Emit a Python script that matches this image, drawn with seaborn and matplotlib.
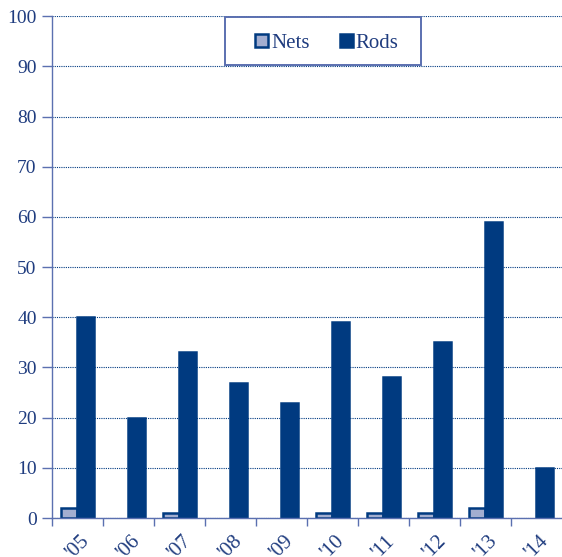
import matplotlib
matplotlib.use("Agg")
import matplotlib.pyplot as plt
import matplotlib.patches as mpatches
import seaborn as sns
import pandas as pd
import numpy as np

years = ["'05", "'06", "'07", "'08", "'09", "'10", "'11", "'12", "'13", "'14"]
nets = [2, 0, 1, 0, 0, 1, 1, 1, 2, 0]
rods = [40, 20, 33, 27, 23, 39, 28, 35, 59, 10]

navy = "#003A80"
light = "#A3AED0"
text_col = "#1F3C7F"
axis_col = "#5B70B0"

df = pd.DataFrame({
    "year": years * 2,
    "value": nets + rods,
    "type": ["Nets"] * len(years) + ["Rods"] * len(years),
})

sns.set_theme(style="white")
plt.rcParams["font.family"] = ["Liberation Serif", "DejaVu Serif"]

fig = plt.figure(figsize=(5.62, 5.57), dpi=100)
ax = fig.add_axes([0.0925, 0.070, 0.9075, 0.901])

sns.barplot(data=df, x="year", y="value", hue="type", order=years,
            hue_order=["Nets", "Rods"], palette=[light, navy], width=0.66,
            ax=ax, saturation=1, edgecolor=navy, linewidth=1.8)

# hide empty bars
for cont in ax.containers:
    for p in cont:
        if p.get_height() == 0:
            p.set_visible(False)

ax.set_ylim(0, 100)
ax.set_xlim(-0.5, len(years) - 0.5)
ax.set_yticks(range(0, 101, 10))
ax.yaxis.grid(True, linestyle=(0, (1, 1)), color=navy, linewidth=0.8)
ax.set_axisbelow(True)
ax.set_xlabel("")
ax.set_ylabel("")

for s in ["top", "right"]:
    ax.spines[s].set_visible(False)
for s in ["left", "bottom"]:
    ax.spines[s].set_color(axis_col)
    ax.spines[s].set_linewidth(1.0)

ax.tick_params(axis="y", colors=axis_col, labelcolor=text_col, labelsize=14,
               length=7, width=1.0, direction="out", left=True, pad=4)
ax.set_xticks(np.arange(len(years)) - 0.5, minor=True)
ax.tick_params(axis="x", which="minor", bottom=True, length=6, width=1.0,
               color=axis_col, direction="out")
ax.tick_params(axis="x", which="major", bottom=False, labelsize=15,
               labelcolor=text_col, pad=4)
for lab in ax.get_xticklabels():
    lab.set_rotation(45)
    lab.set_ha("center")

# legend box
box = mpatches.Rectangle((0.339, 0.902), 0.3845, 0.096, transform=ax.transAxes,
                         facecolor="white", edgecolor=axis_col, linewidth=1.4,
                         zorder=4)
ax.add_patch(box)
leg = ax.legend(loc="center", bbox_to_anchor=(0.539, 0.946), ncol=2,
                frameon=False, fontsize=15, handlelength=0.62,
                handleheight=0.62, handletextpad=0.15, columnspacing=1.45,
                borderpad=0, borderaxespad=0)
leg.set_zorder(5)
for t in leg.get_texts():
    t.set_color(text_col)
for h in leg.legend_handles:
    h.set_edgecolor(navy)
    h.set_linewidth(1.8)

fig.savefig("out.png", dpi=100)
